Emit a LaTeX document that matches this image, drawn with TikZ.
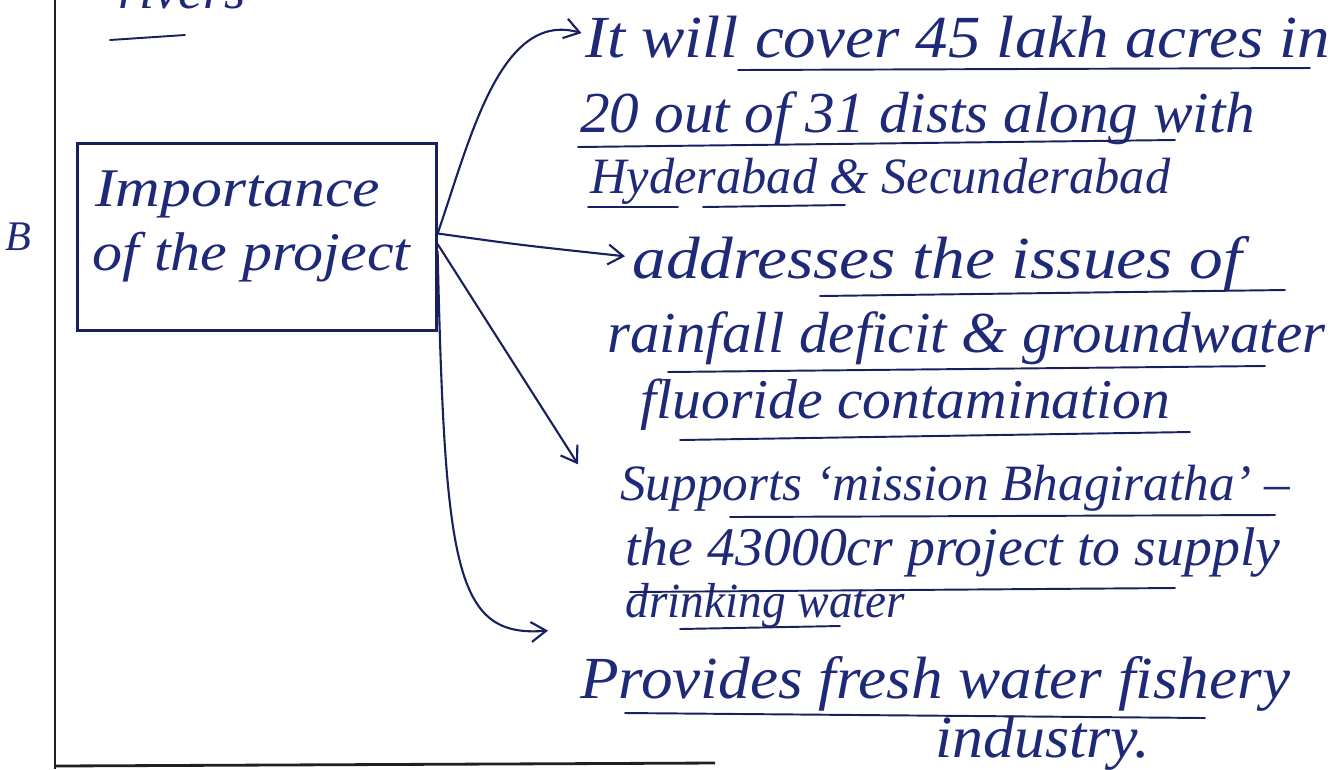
\documentclass[tikz,border=0pt]{standalone}
\usepackage{fontspec}
\usepackage{graphicx}
\setmainfont{Liberation Serif}
\usetikzlibrary{arrows.meta}
\definecolor{ink}{HTML}{1E2A78}
\definecolor{pen}{HTML}{18205E}
\definecolor{rule}{HTML}{202020}
\newcommand{\hw}[3]{{\fontsize{#1}{#1}\selectfont\resizebox{#2}{\height}{#3}}}
\tikzset{
  hand/.style={anchor=base west, inner sep=0pt, text=ink, font=\itshape\fontsize{31}{36}\selectfont},
  uline/.style={draw=pen, line width=1.1pt, line cap=round},
  conn/.style={draw=pen, line width=1.2pt, -{Straight Barb[length=3mm,width=4mm]}},
  boxst/.style={draw=pen, line width=1.3pt, minimum width=7.18cm, minimum height=3.74cm, inner sep=0pt},
  margin/.style={draw=rule, line width=1.6pt}
}
\begin{document}
\begin{tikzpicture}[x=0.02cm, y=-0.02cm]
\useasboundingbox (0,0) rectangle (1338,769);
% margin and page lines
\coordinate (mtop) at (55,0);
\coordinate (mbot) at (55,769);
\draw[margin] (mtop) -- (mbot);
\coordinate (bl) at (55,766);
\coordinate (br) at (715,763);
\draw[margin] (bl) -- (br);
% heading fragment at top
\node[hand] (riv) at (118,8) {rivers};
\draw[uline] (110,40) -- (185,35);
% section mark
\node[text=ink, font=\itshape\fontsize{24}{24}\selectfont, inner sep=0pt] (mark) at (18,237) {B};
% box
\node[boxst] (imp) at (257,237) {};
\node[hand] (imp1) at (95,206) {\hw{31}{5.7cm}{Importance}};
\node[hand] (imp2) at (92,270) {\hw{31}{6.36cm}{of the project}};
% item 1
\node[hand] (l1) at (585,57) {\hw{34}{14.9cm}{It will cover 45 lakh acres in}};
\node[hand] (l2) at (580,132) {\hw{33}{13.5cm}{20 out of 31 dists along with}};
\node[hand] (l3) at (590,193) {\hw{29}{11.6cm}{Hyderabad \& Secunderabad}};
\draw[uline] (738,70) -- (1310,68);
\draw[uline] (578,147) -- (1175,140);
\draw[uline] (588,207) -- (678,207);
\draw[uline] (703,207) -- (845,205);
% item 2
\node[hand] (l4) at (632,278) {\hw{34}{12.2cm}{addresses the issues of}};
\node[hand] (l5) at (607,352) {\hw{33}{14.36cm}{rainfall deficit \& groundwater}};
\node[hand] (l6) at (640,418) {\hw{32}{10.6cm}{fluoride contamination}};
\draw[uline] (820,296) -- (1285,290);
\draw[uline] (668,372) -- (1265,366);
\draw[uline] (680,440) -- (1190,432);
% item 3
\node[hand] (l7) at (620,500) {\hw{29}{13.4cm}{Supports `mission Bhagiratha' –}};
\node[hand] (l8) at (625,565) {\hw{31}{13.1cm}{the 43000cr project to supply}};
\node[hand] (l9) at (625,617) {\hw{28}{5.6cm}{drinking water}};
\draw[uline] (730,517) -- (1275,515);
\draw[uline] (630,592) -- (1175,588);
\draw[uline] (680,629) -- (840,626);
% item 4
\node[hand] (l10) at (580,698) {\hw{34}{14.2cm}{Provides fresh water fishery}};
\node[hand] (l11) at (935,757) {\hw{34}{4.3cm}{industry.}};
\draw[uline] (625,713) -- (1205,718);
% connectors
\draw[conn] ([yshift=2pt]imp.east) .. controls (470,140) and (500,10) .. ([xshift=-2pt,yshift=2pt]l1.west);
\draw[conn] ([yshift=2pt]imp.east) .. controls (520,245) .. ([xshift=-4pt,yshift=4pt]l4.west);
\draw[conn] ([yshift=-4pt]imp.east) -- ([xshift=-0.84cm,yshift=0.0cm]l7.north west);
\draw[conn] ([yshift=-8pt]imp.east) .. controls (445,570) and (455,638) .. ([xshift=-0.64cm,yshift=0.5cm]l10.north west);
\end{tikzpicture}
\end{document}
